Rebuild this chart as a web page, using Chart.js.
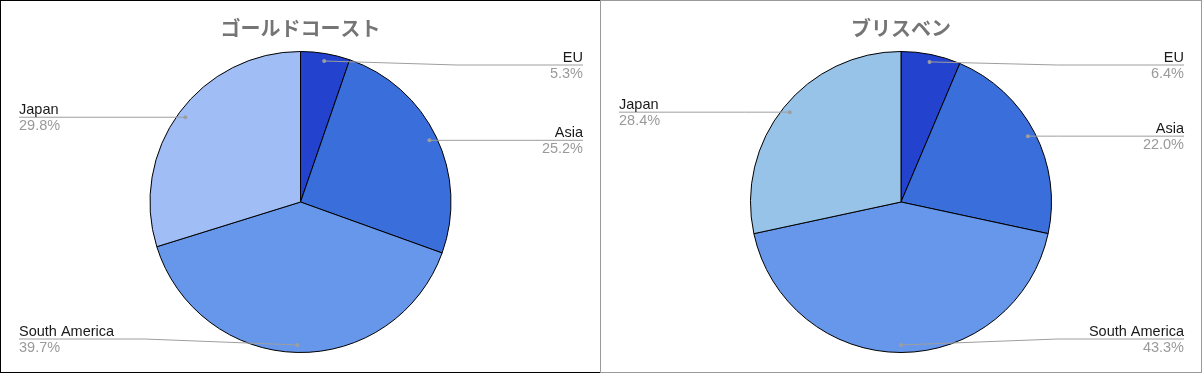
<!DOCTYPE html>
<html>
<head>
<meta charset="utf-8">
<script src="https://cdn.jsdelivr.net/npm/chart.js@4.4.1/dist/chart.umd.min.js"></script>
<style>
  html, body { margin: 0; padding: 0; background: #fff; }
  .panel { position: absolute; top: 0; height: 373px; box-sizing: border-box; background: #fff; }
  #panelGold { left: 0; width: 601px; border: 1px solid #000; }
  #panelBris { left: 600px; width: 602px; border: 1px solid #9a9a9a; }
  canvas { display: block; }
</style>
</head>
<body>
<div class="panel" id="panelGold"><canvas id="chartGoldCoast" width="599" height="371"></canvas></div>
<div class="panel" id="panelBris"><canvas id="chartBrisbane" width="600" height="371"></canvas></div>
<script>
// données
const categories = ['EU', 'Asia', 'South America', 'Japan'];
const goldCoastValues = [5.3, 25.2, 39.7, 29.8];
const brisbaneValues = [6.4, 22.0, 43.3, 28.4];
const goldCoastTitle = 'ゴールドコースト';
const brisbaneTitle = 'ブリスベン';

const goldCoastColors = ['#2342ce', '#3a6fdb', '#6797ea', '#a0bef5'];
const brisbaneColors = ['#2342ce', '#3a6fdb', '#6797ea', '#98c3e8'];

// titre + étiquettes avec lignes de rappel
const pieLabels = {
    id: 'pieLabels',
    afterDraw(chart, args, opts) {
        const ctx = chart.ctx;
        const meta = chart.getDatasetMeta(0);
        const data = chart.data.datasets[0].data;
        const total = data.reduce((a, b) => a + b, 0);

        ctx.save();
        ctx.fillStyle = '#757575';
        ctx.font = 'bold 20px "Noto Sans CJK JP", sans-serif';
        ctx.textAlign = 'center';
        ctx.textBaseline = 'middle';
        ctx.fillText(opts.title, chart.width / 2, 27);

        meta.data.forEach((arc, i) => {
            const p = arc.getProps(['x', 'y', 'startAngle', 'endAngle', 'outerRadius'], true);
            const mid = (p.startAngle + p.endAngle) / 2;
            const frac = (mid + Math.PI / 2) / (2 * Math.PI);
            const right = frac < 0.502;
            const dx = p.x + Math.cos(mid) * p.outerRadius * 0.95;
            const dy = p.y + Math.sin(mid) * p.outerRadius * 0.95;
            const ly = Math.min(Math.max(dy, 64), 338);
            const elbowX = right ? p.x + p.outerRadius + 6 : p.x - p.outerRadius - 6;
            const textX = right ? chart.width - 17 : 18;

            ctx.strokeStyle = '#9e9e9e';
            ctx.lineWidth = 1;
            ctx.beginPath();
            ctx.moveTo(dx, dy);
            ctx.lineTo(elbowX, ly);
            ctx.lineTo(textX, ly);
            ctx.stroke();

            ctx.fillStyle = '#9e9e9e';
            ctx.beginPath();
            ctx.arc(dx, dy, 2, 0, Math.PI * 2);
            ctx.fill();

            ctx.textAlign = right ? 'right' : 'left';
            ctx.textBaseline = 'alphabetic';
            ctx.font = '14.5px "Liberation Sans", Arial, sans-serif';
            ctx.fillStyle = '#1a1a1a';
            ctx.fillText(chart.data.labels[i], textX, ly - 3);
            ctx.fillStyle = '#9a9a9a';
            ctx.fillText((data[i] / total * 100).toFixed(1) + '%', textX, ly + 13);
        });
        ctx.restore();
    }
};

function makePie(id, values, colors, title, padX) {
    return new Chart(document.getElementById(id), {
        type: 'pie',
        data: {
            labels: categories,
            datasets: [{
                data: values,
                backgroundColor: colors,
                borderColor: '#000',
                borderWidth: 1
            }]
        },
        options: {
            responsive: false,
            animation: false,
            layout: { padding: { top: 50, bottom: 19, left: padX, right: padX } },
            plugins: {
                legend: { display: false },
                tooltip: { enabled: false },
                pieLabels: { title: title }
            }
        },
        plugins: [pieLabels]
    });
}

makePie('chartGoldCoast', goldCoastValues, goldCoastColors, goldCoastTitle, 148.5);
makePie('chartBrisbane', brisbaneValues, brisbaneColors, brisbaneTitle, 149);
</script>
</body>
</html>
